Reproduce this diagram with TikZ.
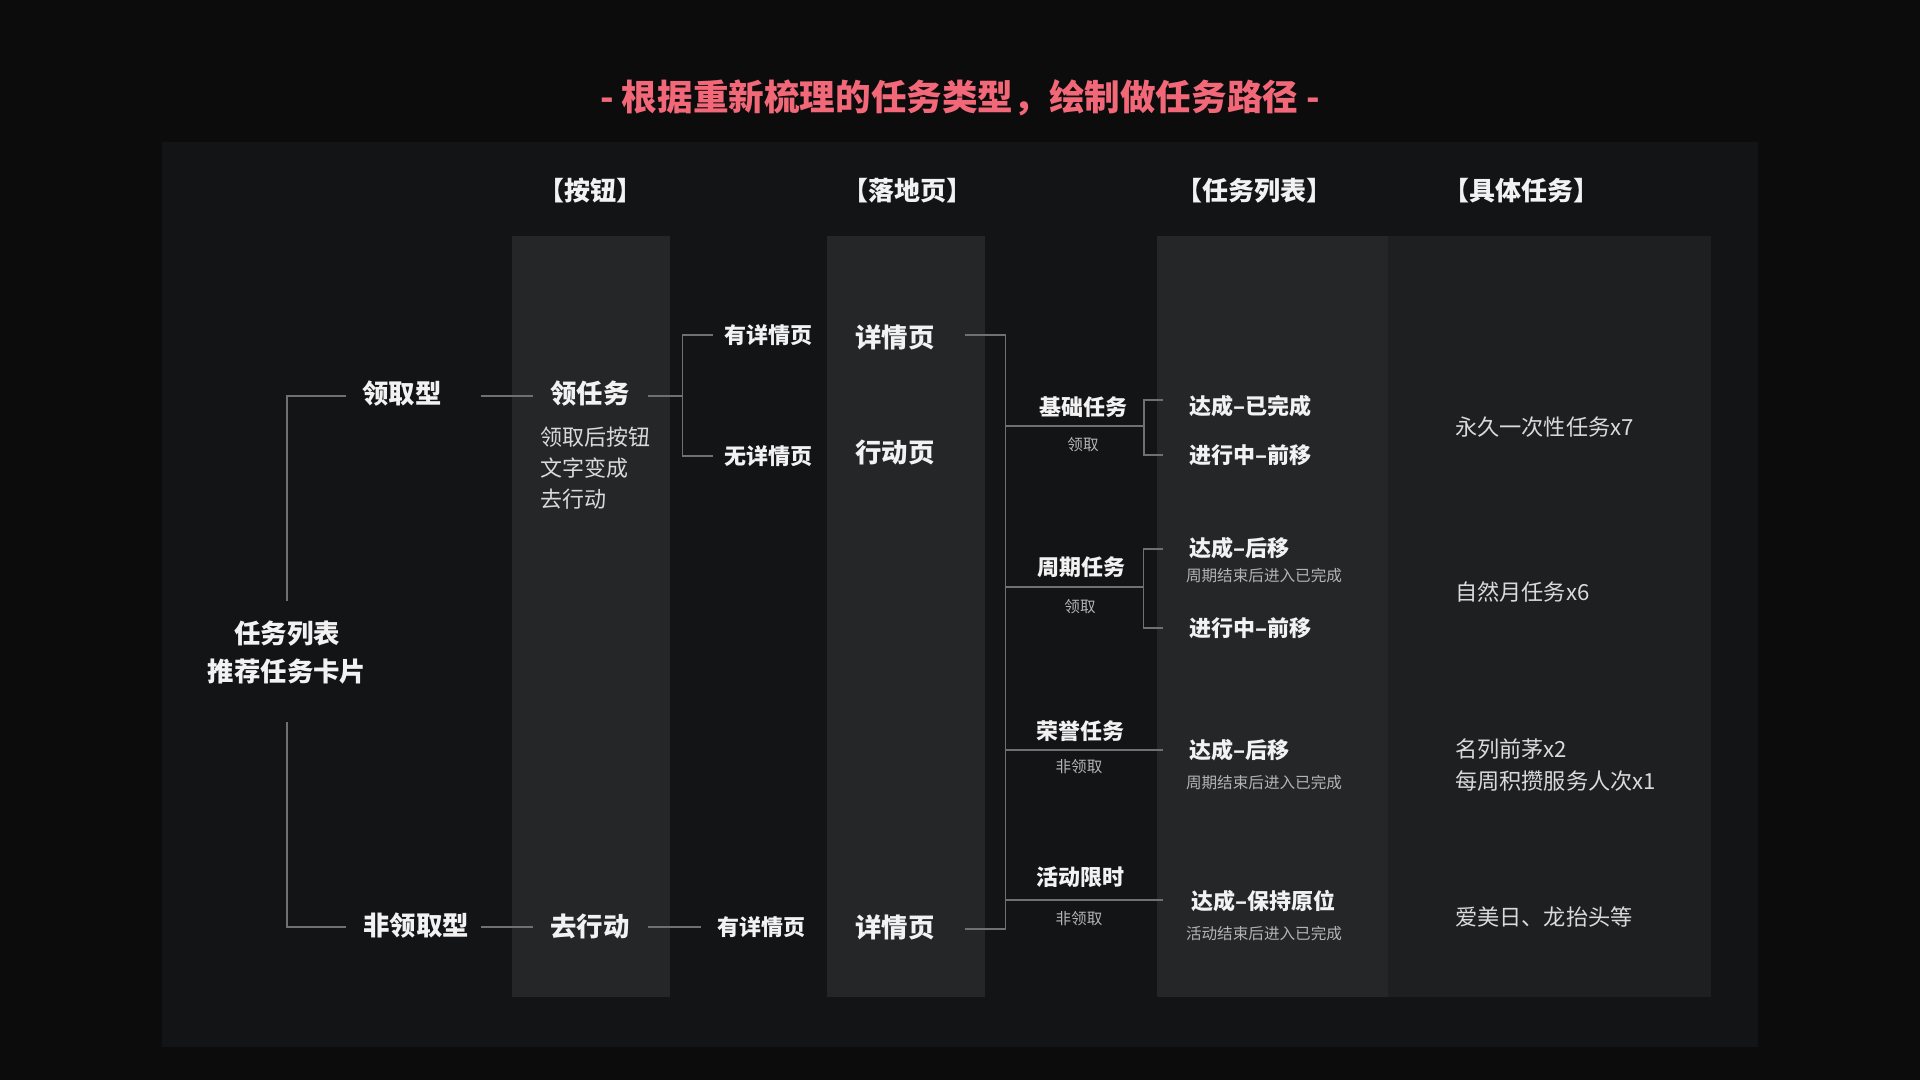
\documentclass[tikz,border=0pt]{standalone}
\usepackage{fontspec}
\setmainfont{Noto Sans CJK SC}
\usetikzlibrary{calc}
\definecolor{bgc}{HTML}{0C0C0D}
\definecolor{panelc}{HTML}{131416}
\definecolor{colc}{HTML}{252628}
\definecolor{col4c}{HTML}{1E1F21}
\definecolor{linec}{HTML}{707072}
\definecolor{titlec}{HTML}{F26879}
\definecolor{txtc}{HTML}{F2F2F2}
\definecolor{subc}{HTML}{DADADA}
\definecolor{dimc}{HTML}{B4B4B4}
\tikzset{
  ln/.style={draw=linec, line width=0.6pt},
  ttitle/.style={text=titlec, font=\fontsize{17.8}{20}\selectfont\bfseries},
  thdr/.style={text=txtc, font=\fontsize{13}{15}\selectfont\bfseries},
  tbig/.style={text=txtc, font=\fontsize{13.2}{19}\selectfont\bfseries},
  tmid/.style={text=txtc, font=\fontsize{11}{14}\selectfont\bfseries},
  tsmall/.style={text=dimc, font=\fontsize{7.8}{10}\selectfont},
  tbody/.style={text=subc, font=\fontsize{11}{15.5}\selectfont},
  tright/.style={text=subc, font=\fontsize{11.1}{16}\selectfont},
}
\begin{document}
\begin{tikzpicture}[x=0.5pt, y=-0.5pt, every node/.style={inner sep=0pt, outer sep=0pt}]
% background and panels
\fill[bgc] (0,0) rectangle (1920,1080);
\fill[panelc] (162,142) rectangle (1758,1047);
\fill[colc] (512,236) rectangle (670,997);
\fill[colc] (827,236) rectangle (985,997);
\fill[colc] (1157,236) rectangle (1388,997);
\fill[col4c] (1388,236) rectangle (1711,997);

% title and headers
\node[ttitle] (title) at (960,98) {- 根据重新梳理的任务类型，绘制做任务路径 -};
\node[thdr] (h1) at (590,191) {【按钮】};
\node[thdr] (h2) at (907,191) {【落地页】};
\node[thdr] (h3) at (1254,191) {【任务列表】};
\node[thdr] (h4) at (1521,191) {【具体任务】};

% left tree
\node[tbig, align=center] (root) at (287,653) {任务列表\\推荐任务卡片};
\node[tbig] (lq) at (402,394) {领取型};
\node[tbig] (fnq) at (416,926) {非领取型};
\node[tbig] (lrw) at (590,394) {领任务};
\node[tbig] (qxd) at (590,926) {去行动};
\node[tbody, anchor=west, align=left] (note) at (540,468) {领取后按钮\\文字变成\\去行动};
\node[tmid] (yxq1) at (768,335) {有详情页};
\node[tmid] (wxq) at (768,456) {无详情页};
\node[tmid] (yxq2) at (761,927) {有详情页};
\node[tbig] (xqy1) at (895,337) {详情页};
\node[tbig] (xdy) at (895,452) {行动页};
\node[tbig] (xqy2) at (895,927) {详情页};

% task types
\node[tmid] (jc) at (1083,407) {基础任务};
\node[tsmall] (lq1) at (1083,445) {领取};
\node[tmid] (zq) at (1081,567) {周期任务};
\node[tsmall] (lq2) at (1080,607) {领取};
\node[tmid] (ry) at (1080,731) {荣誉任务};
\node[tsmall] (flq1) at (1079,767) {非领取};
\node[tmid] (hd) at (1080,877) {活动限时};
\node[tsmall] (flq2) at (1079,919) {非领取};

% statuses
\node[tmid, anchor=west] (s1) at (1189,406) {达成–已完成};
\node[tmid, anchor=west] (s2) at (1189,455) {进行中–前移};
\node[tmid, anchor=west] (s3) at (1189,548) {达成–后移};
\node[tsmall, anchor=west] (s3n) at (1186,576) {周期结束后进入已完成};
\node[tmid, anchor=west] (s4) at (1189,628) {进行中–前移};
\node[tmid, anchor=west] (s5) at (1189,750) {达成–后移};
\node[tsmall, anchor=west] (s5n) at (1186,783) {周期结束后进入已完成};
\node[tmid, anchor=west] (s6) at (1191,901) {达成–保持原位};
\node[tsmall, anchor=west] (s6n) at (1186,934) {活动结束后进入已完成};

% concrete tasks
\node[tright, anchor=west] (r1) at (1455,427) {永久一次性任务x7};
\node[tright, anchor=west] (r2) at (1455,592) {自然月任务x6};
\node[tright, anchor=west, align=left] (r3) at (1455,765) {名列前茅x2\\每周积攒服务人次x1};
\node[tright, anchor=west] (r4) at (1455,917) {爱美日、龙抬头等};

% connectors: left tree
\draw[ln] ($(root.center)+(0,-52)$) |- ($(lq.west)+(-16,2)$);
\draw[ln] ($(root.center)+(0,69)$) |- ($(fnq.west)+(-17,1)$);
\draw[ln] ($(lq.east)+(39,2)$) -- ($(lrw.west)+(-17,2)$);
\draw[ln] ($(fnq.east)+(12,1)$) -- ($(qxd.west)+(-17,1)$);
\draw[ln] ($(lrw.east)+(18,2)$) -- ++(35,0) coordinate (b1);
\draw[ln] ($(yxq1.west)+(-11,0)$) -| (b1) |- ($(wxq.west)+(-11,0)$);
\draw[ln] ($(qxd.east)+(18,1)$) -- ($(yxq2.west)+(-16,0)$);

% connectors: landing pages to task types
\draw[ln] ($(xqy1.east)+(30,-2)$) -- ++(41,0) coordinate (v1);
\draw[ln] ($(xqy2.east)+(30,2)$) -- ++(41,0) coordinate (v2);
\draw[ln] (v1) -- (v2);
\draw[ln] ($(jc)!0.5!(lq1)+(-78,0)$) -- ++(139,0) coordinate (k1);
\draw[ln] ($(s1.west)+(-26,-6)$) -| (k1) |- ($(s2.west)+(-26,0)$);
\draw[ln] ($(zq)!0.5!(lq2)+(-76,0)$) -- ++(139,0) coordinate (k2);
\draw[ln] ($(s3.west)+(-26,1)$) -| (k2) |- ($(s4.west)+(-26,0)$);
\draw[ln] ($(ry)!0.5!(flq1)+(-75,1)$) -- ($(s5.west)+(-26,0)$);
\draw[ln] ($(hd)!0.5!(flq2)+(-75,2)$) -- ($(s6.west)+(-28,-1)$);
\end{tikzpicture}
\end{document}
